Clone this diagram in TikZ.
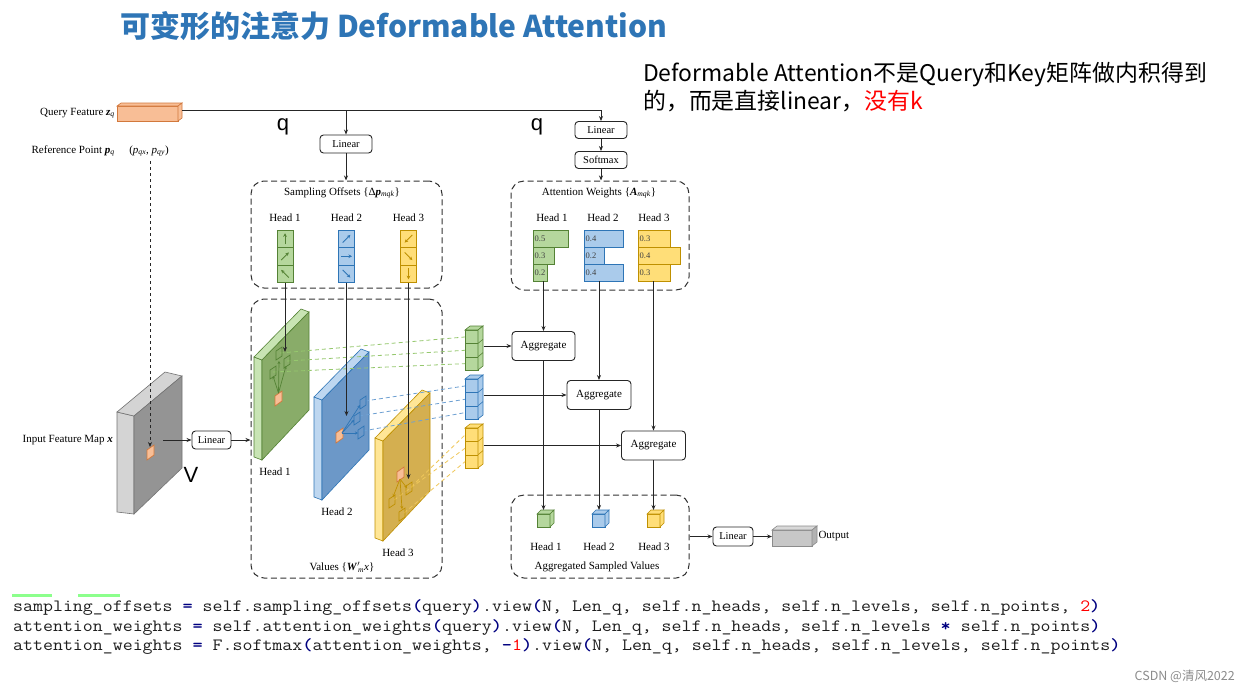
\documentclass[tikz,border=0pt]{standalone}
\usepackage{fontspec}
\usepackage{graphicx}
\setmainfont{Liberation Serif}
\newfontfamily\cjk{Noto Sans CJK SC}
\newfontfamily\sans{Liberation Sans}
\usetikzlibrary{arrows.meta,calc}
\definecolor{ttl}{RGB}{46,117,182}
\definecolor{gF}{RGB}{181,215,157}
\definecolor{gD}{RGB}{84,130,53}
\definecolor{gP}{RGB}{137,172,105}
\definecolor{gL}{RGB}{200,228,180}
\definecolor{gDash}{RGB}{150,200,110}
\definecolor{bF}{RGB}{170,203,235}
\definecolor{bD}{RGB}{46,117,182}
\definecolor{bP}{RGB}{108,152,200}
\definecolor{bL}{RGB}{190,215,240}
\definecolor{bDash}{RGB}{110,160,210}
\definecolor{yF}{RGB}{255,222,120}
\definecolor{yD}{RGB}{191,144,0}
\definecolor{yP}{RGB}{212,175,80}
\definecolor{yL}{RGB}{255,230,150}
\definecolor{yDash}{RGB}{240,200,90}
\definecolor{oF}{RGB}{248,190,150}
\definecolor{oD}{RGB}{210,120,60}
\definecolor{cbk}{RGB}{0,0,128}
\definecolor{ctx}{RGB}{30,30,30}
\newcommand\cbl[1]{{\color{cbk}\bfseries#1}}
\newcommand\codeline[1]{\scalebox{1.125}[1]{#1}}
\newcommand\slab[5]{%
  \filldraw[fill=#4,draw=#5,line width=0.6pt] (#1,#2) -- ++(-8,-3) -- ++(0,100) -- ++(8,3) -- cycle;
  \filldraw[fill=#4,draw=#5,line width=0.6pt] (#1,#2) -- ++(-8,-3) -- ++(47,-48) -- ++(8,3) -- cycle;
  \filldraw[fill=#3,draw=#5,line width=0.6pt] (#1,#2) -- ++(47,-48) -- ++(0,98) -- ++(-47,50) -- cycle;}
\newcommand\opt[2]{\filldraw[fill=oF,draw=oD,line width=0.7pt] (#1,#2+5) -- ++(7,-5) -- ++(0,10) -- ++(-7,5) -- cycle;}
\newcommand\hb[3]{\draw[#3,line width=0.7pt] (#1,#2+4) -- ++(6,-4) -- ++(0,9) -- ++(-6,4) -- cycle;}
\newcommand\carr[4]{\draw[carrow,#4] ($(#1)-(#2*5.5,#3*5.5)$) -- ($(#1)+(#2*5.5,#3*5.5)$);}
\newcommand\stk[5]{%
  \foreach \i in {0,1,2}{\node[draw=#4,fill=#3,line width=0.6pt,inner sep=0,minimum width=13pt,minimum height=13.33pt,anchor=north west] (#5\i) at (#1,#2+\i*13.33) {};}
  \filldraw[fill=#3,draw=#4,line width=0.6pt] (#1,#2) -- ++(5,-4) -- ++(13,0) -- ++(-5,4) -- cycle;
  \filldraw[fill=#3,draw=#4,line width=0.6pt] (#1+13,#2) -- ++(5,-4) -- ++(0,40) -- ++(-5,4) -- cycle;
  \draw[#4,line width=0.6pt] (#1+13,#2+13.33) -- ++(5,-4) (#1+13,#2+26.66) -- ++(5,-4);}
\newcommand\cub[5]{%
  \node[draw=#4,fill=#3,line width=0.6pt,inner sep=0,minimum size=13pt,anchor=north west] (#5) at (#1,#2) {};
  \filldraw[fill=#3,draw=#4,line width=0.6pt] (#1,#2) -- ++(4,-4) -- ++(13,0) -- ++(-4,4) -- cycle;
  \filldraw[fill=#3,draw=#4,line width=0.6pt] (#1+13,#2) -- ++(4,-4) -- ++(0,13) -- ++(-4,4) -- cycle;}
\newcommand\wbar[6]{%
  \node[bar,fill=#5F,draw=#5D,minimum width=#4pt,anchor=west] (#1) at (#2,#3) {};
  \node[bartxt,anchor=west] (#1t) at (#1.west) {#6};}
\begin{document}
\begin{tikzpicture}[x=1pt,y=-1pt,
  every node/.style={font=\fontsize{11}{13}\selectfont},
  ln/.style={line width=0.8pt, draw=black!85},
  arr/.style={ln, -{Stealth[length=5pt,width=4pt]}},
  box/.style={draw=black!85, line width=0.9pt, rounded corners=3.5pt, inner sep=0, minimum height=18pt, fill=white, font=\fontsize{10.5}{12}\selectfont},
  dbox/.style={draw=black!80, line width=1pt, dash pattern=on 6pt off 3.5pt, rounded corners=13pt, inner sep=0},
  cell/.style={draw, line width=0.6pt, inner sep=0, minimum width=16pt, minimum height=17.5pt},
  bar/.style={line width=0.6pt, inner sep=0, minimum height=17pt},
  bartxt/.style={inner sep=1.5pt, font=\fontsize{8.5}{10}\selectfont, text=black!75},
  carrow/.style={line width=0.9pt, -{Stealth[length=3.5pt,width=3.5pt]}},
  parr/.style={line width=0.7pt, -{Stealth[length=3pt,width=3pt]}},
  gdl/.style={gDash, line width=0.8pt, dash pattern=on 4pt off 3pt},
  bdl/.style={bDash, line width=0.8pt, dash pattern=on 4pt off 3pt},
  ydl/.style={yDash, line width=0.8pt, dash pattern=on 4pt off 3pt},
  big/.style={font=\sans\fontsize{22}{26}\selectfont}
]
\fill[white] (0,0) rectangle (1248,694);
\useasboundingbox (0,0) rectangle (1248,694);

% title and notes
\node[anchor=base west, inner sep=0, text=ttl, font=\cjk\bfseries\fontsize{30}{34}\selectfont] (title) at (120,37.5) {可变形的注意力 Deformable Attention};
\node[anchor=base west, inner sep=0, font=\cjk\fontsize{22.9}{26}\selectfont] (note1) at (643,81.5) {Deformable Attention不是Query和Key矩阵做内积得到};
\node[anchor=base west, inner sep=0, font=\cjk\fontsize{22.9}{26}\selectfont] (note2) at (643,109.5) {的，而是直接linear，{\color{red}没有k}};

% query feature
\node[anchor=east, inner sep=0] (qlab) at (115,113) {Query Feature \textbf{\textit{z}}\textsubscript{\textit{q}}};
\node[draw=oD, fill=oF, line width=0.6pt, inner sep=0, minimum width=61pt, minimum height=15pt, anchor=north west] (qf) at (117,106) {};
\filldraw[fill=oF,draw=oD,line width=0.6pt] (117,106) -- ++(4,-3) -- ++(61,0) -- ++(-4,3) -- cycle;
\filldraw[fill=oF,draw=oD,line width=0.6pt] (178,106) -- ++(4,-3) -- ++(0,15) -- ++(-4,3) -- cycle;
\coordinate (qout) at (182,110);

% reference point
\node[anchor=east, inner sep=0] (rlab) at (115,151) {Reference Point \textbf{\textit{p}}\textsubscript{\textit{q}}};
\node[inner sep=0] (rcoord) at (149,151) {(\textit{p}\textsubscript{\textit{qx}}, \textit{p}\textsubscript{\textit{qy}})};
\coordinate (rstart) at (150,161);
\coordinate (rend) at (150,447);

% linear boxes top
\node[box, minimum width=52pt] (lin1) at (346,144) {Linear};
\node[box, minimum width=52pt, minimum height=17pt] (lin2) at (601,130) {Linear};
\node[box, minimum width=52pt, minimum height=17pt] (sm) at (601,160) {Softmax};
\node[big] (q1) at (283,127) {q};
\node[big] (q2) at (537,127) {q};
\draw[arr] (qout) -- (qout -| lin2.north) -- (lin2.north);
\draw[arr] (qout -| lin1.north) -- (lin1.north);
\draw[arr] (lin2.south) -- (sm.north);

% dashed groups
\node[dbox, minimum width=191pt, minimum height=107pt] (sobox) at (346.5,234.5) {};
\node[dbox, minimum width=178pt, minimum height=109pt] (awbox) at (600,235.5) {};
\node[dbox, minimum width=191pt, minimum height=279pt] (valbox) at (346.5,438.5) {};
\node[dbox, minimum width=178pt, minimum height=83pt] (aggbox) at (600,536.5) {};
\draw[arr] (lin1.south) -- (lin1.south |- sobox.north);
\draw[arr] (sm.south) -- (sm.south |- awbox.north);

% sampling offsets
\node (sot) at (342,193) {Sampling Offsets \{Δ\textbf{\textit{p}}\textsubscript{\textit{mqk}}\}};
\node (soh1) at (285,218) {Head 1};
\node (soh2) at (346.5,218) {Head 2};
\node (soh3) at (408.5,218) {Head 3};
\foreach \c/\x/\f/\d in {1/285/gF/gD, 2/346.5/bF/bD, 3/408.5/yF/yD}{
  \node[cell,fill=\f,draw=\d] (so\c a) at (\x,238.75) {};
  \node[cell,fill=\f,draw=\d] (so\c b) at (\x,256.25) {};
  \node[cell,fill=\f,draw=\d] (so\c c) at (\x,273.75) {};
}
\carr{so1a}{0}{-1}{gD}
\carr{so1b}{0.7}{-0.7}{gD}
\carr{so1c}{-0.7}{-0.7}{gD}
\carr{so2a}{0.7}{-0.7}{bD}
\carr{so2b}{1}{0}{bD}
\carr{so2c}{0.7}{0.7}{bD}
\carr{so3a}{-0.7}{0.7}{yD}
\carr{so3b}{0.7}{0.7}{yD}
\carr{so3c}{0}{1}{yD}

% attention weights
\node (awt) at (599,193) {Attention Weights \{\textbf{\textit{A}}\textsubscript{\textit{mqk}}\}};
\node (awh1) at (552,218) {Head 1};
\node (awh2) at (603,218) {Head 2};
\node (awh3) at (654,218) {Head 3};
\wbar{aw1a}{533}{238.5}{35}{g}{0.5}
\wbar{aw1b}{533}{255.5}{21}{g}{0.3}
\wbar{aw1c}{533}{272.5}{14}{g}{0.2}
\wbar{aw2a}{584}{238.5}{39}{b}{0.4}
\wbar{aw2b}{584}{255.5}{20}{b}{0.2}
\wbar{aw2c}{584}{272.5}{39}{b}{0.4}
\wbar{aw3a}{638}{238.5}{32}{y}{0.3}
\wbar{aw3b}{638}{255.5}{42}{y}{0.4}
\wbar{aw3c}{638}{272.5}{32}{y}{0.3}

% input feature map
\node[anchor=east, inner sep=0] (inlab) at (113,440) {Input Feature Map \textbf{\textit{x}}};
\filldraw[fill=black!17,draw=black!55,line width=0.6pt] (134,416) -- (117,412) -- (117,512) -- (134,514) -- cycle;
\filldraw[fill=black!17,draw=black!55,line width=0.6pt] (134,416) -- (117,412) -- (165,372) -- (182,376) -- cycle;
\filldraw[fill=black!42,draw=black!55,line width=0.6pt] (134,416) -- (182,376) -- (182,468) -- (134,514) -- cycle;
\opt{147}{445}
\draw[arr, dashed] (rstart) -- (rend);
\coordinate (inout) at (163,440);
\node[box, minimum width=39pt] (lin3) at (211.5,440) {Linear};
\draw[arr] (inout) -- (lin3.west);
\draw[arr] (lin3.east) -- (lin3.east -| valbox.west);
\node[big] (vlab) at (191,475) {V};

% value planes
\slab{262}{360}{gP}{gL}{gD}
\slab{322}{400}{bP}{bL}{bD}
\slab{383}{441}{yP}{yL}{yD}
\node (vh1) at (275,472) {Head 1};
\node (vh2) at (337,512) {Head 2};
\node (vh3) at (398,553) {Head 3};
\node (vlabel) at (342,567) {Values \{\textbf{\textit{W}}$'$\kern-2pt\textsubscript{\textit{m}}\textit{x}\}};

% stacks of sampled values
\stk{465}{330}{gF}{gD}{gs}
\stk{465}{379}{bF}{bD}{bs}
\stk{465}{428}{yF}{yD}{ys}

% sampling points and dashed projections
\coordinate (g1) at (280,353); \coordinate (g2) at (287,361); \coordinate (g3) at (273,372);
\coordinate (b1) at (365,401); \coordinate (b2) at (359,416); \coordinate (b3) at (363,431);
\coordinate (y1) at (411,487); \coordinate (y2) at (394,500); \coordinate (y3) at (404,513);
\draw[gdl] (g1) -- (gs0.west); \draw[gdl] (g2) -- (gs1.west); \draw[gdl] (g3) -- (gs2.west);
\draw[bdl] (b1) -- (bs0.west); \draw[bdl] (b2) -- (bs1.west); \draw[bdl] (b3) -- (bs2.west);
\draw[ydl] (y1) -- (ys0.west); \draw[ydl] (y2) -- (ys1.west); \draw[ydl] (y3) -- (ys2.west);

\opt{275}{391}
\hb{270}{366}{gD}\hb{276}{347}{gD}\hb{284}{355}{gD}
\coordinate (gp) at (278.5,393);
\draw[parr,gD] (gp) -- (273,376); \draw[parr,gD] (gp) -- (279,361); \draw[parr,gD] (gp) -- (286,366);
\opt{336}{428}
\hb{360}{396}{bD}\hb{354}{412}{bD}\hb{358}{426}{bD}
\coordinate (bp) at (342,433);
\draw[parr,bD] (bp) -- (360,405); \draw[parr,bD] (bp) -- (354,420); \draw[parr,bD] (bp) -- (358,433);
\opt{397}{467}
\hb{389}{495}{yD}\hb{406}{482}{yD}\hb{399}{508}{yD}
\coordinate (yp) at (400,479);
\draw[parr,yD] (yp) -- (393,497); \draw[parr,yD] (yp) -- (407,488); \draw[parr,yD] (yp) -- (402,509);

\coordinate (gtip) at (285,352);
\coordinate (btip) at (346.5,416);
\coordinate (ytip) at (408.5,479);
\draw[arr] (so1c.south) -- (gtip);
\draw[arr] (so2c.south) -- (btip);
\draw[arr] (so3c.south) -- (ytip);

% aggregates
\node[box, minimum width=63pt, minimum height=29pt, font=\fontsize{11}{13}\selectfont] (agg1) at (543.5,346) {Aggregate};
\node[box, minimum width=64pt, minimum height=29pt, font=\fontsize{11}{13}\selectfont] (agg2) at (599,395) {Aggregate};
\node[box, minimum width=64pt, minimum height=29pt, font=\fontsize{11}{13}\selectfont] (agg3) at (653.5,445.5) {Aggregate};
\draw[arr] (aw1c.south -| agg1.north) -- (agg1.north);
\draw[arr] (aw2c.south -| agg2.north) -- (agg2.north);
\draw[arr] (aw3c.south -| agg3.north) -- (agg3.north);
\draw[arr] ($(gs1.east |- agg1.west)+(5,0)$) -- (agg1.west);
\draw[arr] ($(bs1.east |- agg2.west)+(5,0)$) -- (agg2.west);
\draw[arr] ($(ys1.east |- agg3.west)+(5,0)$) -- (agg3.west);

% aggregated sampled values
\cub{537}{514}{gF}{gD}{ac1}
\cub{592}{514}{bF}{bD}{ac2}
\cub{647}{514}{yF}{yD}{ac3}
\draw[arr] (agg1.south) -- ($(agg1.south |- ac1.north)+(0,-4)$);
\draw[arr] (agg2.south) -- ($(agg2.south |- ac2.north)+(0,-4)$);
\draw[arr] (agg3.south) -- ($(agg3.south |- ac3.north)+(0,-4)$);
\node (ah1) at (546,547) {Head 1};
\node (ah2) at (599,547) {Head 2};
\node (ah3) at (654,547) {Head 3};
\node (aglab) at (597,567) {Aggregated Sampled Values};

% output
\node[box, minimum width=40pt, minimum height=19pt] (lin4) at (733,536.5) {Linear};
\node[draw=black!45, fill=black!22, line width=0.6pt, inner sep=0, minimum width=40pt, minimum height=16pt, anchor=west] (out) at (772,538) {};
\filldraw[fill=black!15,draw=black!45,line width=0.6pt] (772,530) -- ++(5,-4) -- ++(40,0) -- ++(-5,4) -- cycle;
\filldraw[fill=black!30,draw=black!45,line width=0.6pt] (812,530) -- ++(5,-4) -- ++(0,16) -- ++(-5,4) -- cycle;
\node[anchor=west] (outlab) at (815,536) {Output};
\draw[arr] (aggbox.east) -- (aggbox.east -| lin4.west);
\draw[arr] (lin4.east) -- (lin4.east -| out.west);

% code
\fill[green!45!white] (12,594) rectangle (52,597);
\fill[green!45!white] (78,594) rectangle (120,597);
\begin{scope}[every node/.style={anchor=west, inner sep=0, text=ctx, font=\ttfamily\fontsize{17.2}{20}\selectfont}]
\node (code1) at (13,608) {\codeline{sampling\_offsets \cbl{=} self.sampling\_offsets\cbl{(}query\cbl{)}.view\cbl{(}N, Len\_q, self.n\_heads, self.n\_levels, self.n\_points, {\color{red}2}\cbl{)}}};
\node (code2) at (13,628) {\codeline{attention\_weights \cbl{=} self.attention\_weights\cbl{(}query\cbl{)}.view\cbl{(}N, Len\_q, self.n\_heads, self.n\_levels \cbl{*} self.n\_points\cbl{)}}};
\node (code3) at (13,647) {\codeline{attention\_weights \cbl{=} F.softmax\cbl{(}attention\_weights, \cbl{-}{\color{red}1}\cbl{)}.view\cbl{(}N, Len\_q, self.n\_heads, self.n\_levels, self.n\_points\cbl{)}}};
\end{scope}
\node[anchor=east, inner sep=0, text=black!45, font=\cjk\fontsize{12.5}{14}\selectfont] (csdn) at (1235,676) {CSDN @清风2022};
\end{tikzpicture}
\end{document}
